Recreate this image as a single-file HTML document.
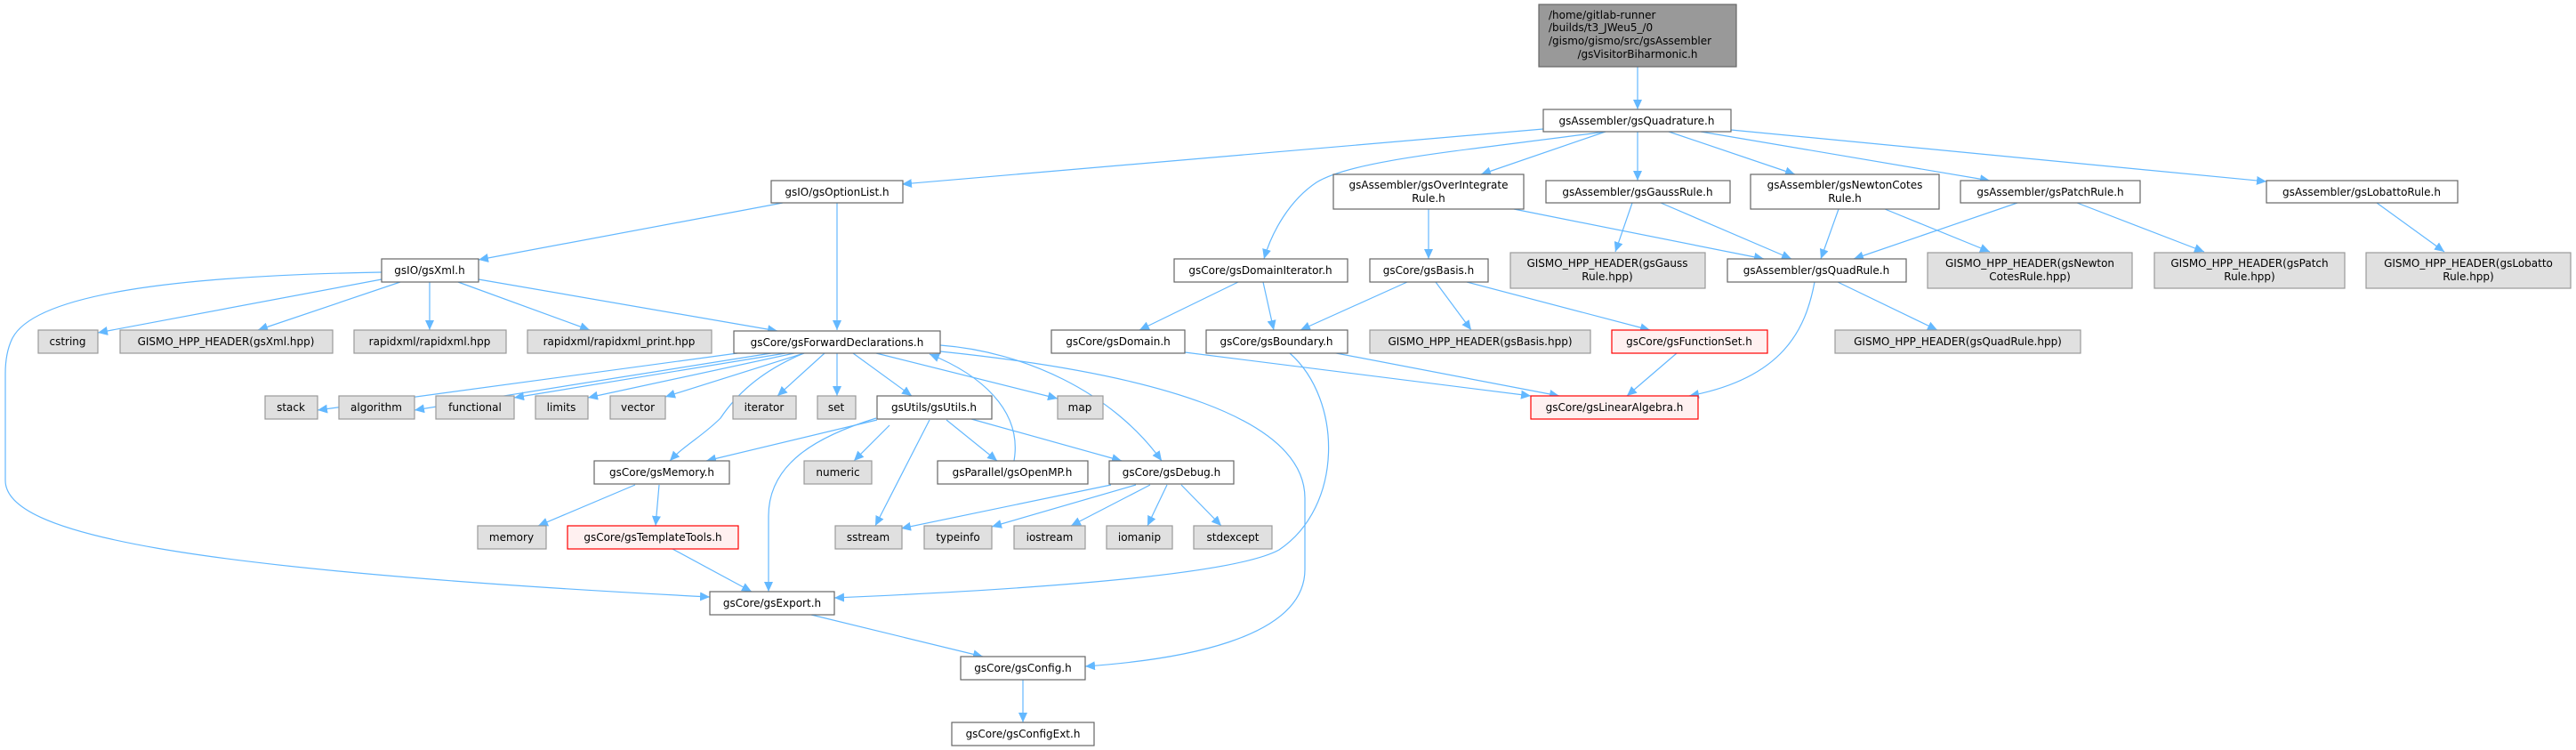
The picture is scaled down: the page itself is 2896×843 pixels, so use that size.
<!DOCTYPE html>
<html><head><meta charset="utf-8"><style>
html,body{margin:0;padding:0;background:#fff;}
svg{display:block;}
text{font-family:"DejaVu Sans","Liberation Sans",sans-serif;font-size:12px;fill:#000;}
.n{fill:#fff;stroke:#666;stroke-width:1.2}
.g{fill:#e0e0e0;stroke:#999;stroke-width:1.2}
.r{fill:#fff0f0;stroke:#f00;stroke-width:1.2}
.t{fill:#999;stroke:#666;stroke-width:1.2}
.e{fill:none;stroke:#63b8ff;stroke-width:1.2;marker-end:url(#a)}
</style></head><body>
<svg width="2896" height="843" viewBox="0 0 2896 843" xmlns="http://www.w3.org/2000/svg">
<defs><marker id="a" markerUnits="userSpaceOnUse" markerWidth="12" markerHeight="10" refX="11" refY="5" orient="auto"><path d="M0,0 L11,5 L0,10 z" fill="#63b8ff"/></marker></defs>

<!-- edges -->
<path class="e" d="M1841,75 L1841,123"/>
<path class="e" d="M1735,145 L1014,207"/>
<path class="e" d="M1805,148 C1640,170 1520,180 1480,205 C1450,225 1430,260 1421,291"/>
<path class="e" d="M1805,148 L1665,196"/>
<path class="e" d="M1841,148 L1841,203"/>
<path class="e" d="M1876,148 L2018,196"/>
<path class="e" d="M1912,148 L2237,203"/>
<path class="e" d="M1946,146 L2548,204"/>
<path class="e" d="M880,228 L538,292"/>
<path class="e" d="M941,228 L941,371"/>
<path class="e" d="M1606,235 L1606,291"/>
<path class="e" d="M1702,235 L1983,291"/>
<path class="e" d="M1835,228 L1816,283"/>
<path class="e" d="M1867,228 L2014,291"/>
<path class="e" d="M2067,235 L2047,291"/>
<path class="e" d="M2119,235 L2237,283"/>
<path class="e" d="M2268,228 L2084,291"/>
<path class="e" d="M2335,228 L2478,283"/>
<path class="e" d="M2672,228 L2748,283"/>
<path class="e" d="M429,314 L110,374"/>
<path class="e" d="M450,317 L290,371"/>
<path class="e" d="M483,317 L483,371"/>
<path class="e" d="M515,317 L663,371"/>
<path class="e" d="M538,314 L874,372"/>
<path class="e" d="M429,306 C200,310 40,330 14,380 C8,392 6,405 6,420 L6,540 C6,600 200,640 798,671"/>
<path class="e" d="M1392,317 L1281,371"/>
<path class="e" d="M1420,317 L1432,371"/>
<path class="e" d="M1582,317 L1462,371"/>
<path class="e" d="M1614,317 L1654,371"/>
<path class="e" d="M1649,317 L1855,371"/>
<path class="e" d="M2066,317 L2178,371"/>
<path class="e" d="M2040,317 C2030,370 2005,425 1899,445"/>
<path class="e" d="M1332,396 L1721,445"/>
<path class="e" d="M1497,396 L1753,445"/>
<path class="e" d="M1885,397 L1829,445"/>
<path class="e" d="M1450,397 C1510,450 1510,570 1438,618 C1380,650 1100,665 938,672"/>
<path class="e" d="M829,397 L357,461"/>
<path class="e" d="M867,397 L466,461"/>
<path class="e" d="M883,397 L578,447"/>
<path class="e" d="M893,397 L661,447"/>
<path class="e" d="M904,397 L748,446"/>
<path class="e" d="M927,397 L874,445"/>
<path class="e" d="M941,397 L941,445"/>
<path class="e" d="M959,397 L1025,445"/>
<path class="e" d="M985,397 L1189,448"/>
<path class="e" d="M904,397 C860,415 830,440 810,470 C790,490 770,500 753,518"/>
<path class="e" d="M1057,388 C1150,395 1250,440 1306,518"/>
<path class="e" d="M1057,395 C1300,420 1467,470 1467,560 L1467,640 C1467,720 1320,742 1220,749"/>
<path class="e" d="M1140,518 C1150,460 1100,420 1045,398"/>
<path class="e" d="M986,472 L794,518"/>
<path class="e" d="M1000,478 L960,518"/>
<path class="e" d="M1045,472 L984,591"/>
<path class="e" d="M1064,472 L1121,518"/>
<path class="e" d="M1092,471 L1261,518"/>
<path class="e" d="M985,470 C920,490 864,520 864,580 L864,665"/>
<path class="e" d="M714,545 L605,591"/>
<path class="e" d="M741,545 L737,591"/>
<path class="e" d="M756,617 L845,665"/>
<path class="e" d="M1249,545 L1013,594"/>
<path class="e" d="M1277,545 L1115,592"/>
<path class="e" d="M1293,545 L1204,591"/>
<path class="e" d="M1312,545 L1290,591"/>
<path class="e" d="M1328,545 L1373,591"/>
<path class="e" d="M912,691 L1105,738"/>
<path class="e" d="M1150,764 L1150,812"/>

<!-- nodes -->
<rect class="t" x="1730" y="5" width="222" height="70"/>
<text x="1741" y="21">/home/gitlab-runner</text>
<text x="1741" y="35">/builds/t3_JWeu5_/0</text>
<text x="1741" y="50">/gismo/gismo/src/gsAssembler</text>
<text x="1841" y="65" text-anchor="middle">/gsVisitorBiharmonic.h</text>

<g text-anchor="middle">
<rect class="n" x="1735" y="123" width="211" height="25"/><text x="1840" y="140">gsAssembler/gsQuadrature.h</text>

<rect class="n" x="867" y="203" width="148" height="25"/><text x="941" y="220">gsIO/gsOptionList.h</text>
<rect class="n" x="1499" y="196" width="214" height="39"/><text x="1606" y="212">gsAssembler/gsOverIntegrate</text><text x="1606" y="227">Rule.h</text>
<rect class="n" x="1738" y="203" width="207" height="25"/><text x="1841" y="220">gsAssembler/gsGaussRule.h</text>
<rect class="n" x="1968" y="196" width="212" height="39"/><text x="2074" y="212">gsAssembler/gsNewtonCotes</text><text x="2074" y="227">Rule.h</text>
<rect class="n" x="2204" y="203" width="202" height="25"/><text x="2305" y="220">gsAssembler/gsPatchRule.h</text>
<rect class="n" x="2548" y="203" width="215" height="25"/><text x="2655" y="220">gsAssembler/gsLobattoRule.h</text>

<rect class="n" x="429" y="291" width="109" height="26"/><text x="483" y="308">gsIO/gsXml.h</text>
<rect class="n" x="1320" y="291" width="195" height="26"/><text x="1417" y="308">gsCore/gsDomainIterator.h</text>
<rect class="n" x="1540" y="291" width="133" height="26"/><text x="1606" y="308">gsCore/gsBasis.h</text>
<rect class="g" x="1698" y="284" width="219" height="40"/><text x="1807" y="300">GISMO_HPP_HEADER(gsGauss</text><text x="1807" y="315">Rule.hpp)</text>
<rect class="n" x="1942" y="291" width="201" height="26"/><text x="2042" y="308">gsAssembler/gsQuadRule.h</text>
<rect class="g" x="2167" y="284" width="230" height="40"/><text x="2282" y="300">GISMO_HPP_HEADER(gsNewton</text><text x="2282" y="315">CotesRule.hpp)</text>
<rect class="g" x="2422" y="284" width="214" height="40"/><text x="2529" y="300">GISMO_HPP_HEADER(gsPatch</text><text x="2529" y="315">Rule.hpp)</text>
<rect class="g" x="2660" y="284" width="230" height="40"/><text x="2775" y="300">GISMO_HPP_HEADER(gsLobatto</text><text x="2775" y="315">Rule.hpp)</text>

<rect class="g" x="43" y="371" width="67" height="26"/><text x="76" y="388">cstring</text>
<rect class="g" x="135" y="371" width="239" height="26"/><text x="254" y="388">GISMO_HPP_HEADER(gsXml.hpp)</text>
<rect class="g" x="398" y="371" width="171" height="26"/><text x="483" y="388">rapidxml/rapidxml.hpp</text>
<rect class="g" x="593" y="371" width="207" height="26"/><text x="696" y="388">rapidxml/rapidxml_print.hpp</text>
<rect class="n" x="825" y="372" width="232" height="25"/><text x="941" y="389">gsCore/gsForwardDeclarations.h</text>
<rect class="n" x="1182" y="371" width="150" height="26"/><text x="1257" y="388">gsCore/gsDomain.h</text>
<rect class="n" x="1356" y="371" width="159" height="26"/><text x="1435" y="388">gsCore/gsBoundary.h</text>
<rect class="g" x="1540" y="371" width="248" height="26"/><text x="1664" y="388">GISMO_HPP_HEADER(gsBasis.hpp)</text>
<rect class="r" x="1812" y="371" width="175" height="26"/><text x="1899" y="388">gsCore/gsFunctionSet.h</text>
<rect class="g" x="2063" y="371" width="276" height="26"/><text x="2201" y="388">GISMO_HPP_HEADER(gsQuadRule.hpp)</text>

<rect class="g" x="298" y="445" width="59" height="26"/><text x="327" y="462">stack</text>
<rect class="g" x="381" y="445" width="85" height="26"/><text x="423" y="462">algorithm</text>
<rect class="g" x="490" y="445" width="88" height="26"/><text x="534" y="462">functional</text>
<rect class="g" x="602" y="445" width="59" height="26"/><text x="631" y="462">limits</text>
<rect class="g" x="686" y="445" width="62" height="26"/><text x="717" y="462">vector</text>
<rect class="g" x="824" y="445" width="71" height="26"/><text x="859" y="462">iterator</text>
<rect class="g" x="919" y="445" width="43" height="26"/><text x="940" y="462">set</text>
<rect class="n" x="986" y="445" width="129" height="26"/><text x="1050" y="462">gsUtils/gsUtils.h</text>
<rect class="g" x="1189" y="445" width="51" height="26"/><text x="1214" y="462">map</text>
<rect class="r" x="1721" y="445" width="188" height="26"/><text x="1815" y="462">gsCore/gsLinearAlgebra.h</text>

<rect class="n" x="668" y="518" width="152" height="26"/><text x="744" y="535">gsCore/gsMemory.h</text>
<rect class="g" x="904" y="518" width="76" height="26"/><text x="942" y="535">numeric</text>
<rect class="n" x="1054" y="518" width="169" height="26"/><text x="1138" y="535">gsParallel/gsOpenMP.h</text>
<rect class="n" x="1247" y="518" width="140" height="26"/><text x="1317" y="535">gsCore/gsDebug.h</text>

<rect class="g" x="537" y="591" width="77" height="26"/><text x="575" y="608">memory</text>
<rect class="r" x="638" y="591" width="192" height="26"/><text x="734" y="608">gsCore/gsTemplateTools.h</text>
<rect class="g" x="939" y="591" width="75" height="26"/><text x="976" y="608">sstream</text>
<rect class="g" x="1039" y="591" width="76" height="26"/><text x="1077" y="608">typeinfo</text>
<rect class="g" x="1140" y="591" width="80" height="26"/><text x="1180" y="608">iostream</text>
<rect class="g" x="1244" y="591" width="74" height="26"/><text x="1281" y="608">iomanip</text>
<rect class="g" x="1342" y="591" width="88" height="26"/><text x="1386" y="608">stdexcept</text>

<rect class="n" x="798" y="665" width="140" height="26"/><text x="868" y="682">gsCore/gsExport.h</text>
<rect class="n" x="1080" y="738" width="140" height="26"/><text x="1150" y="755">gsCore/gsConfig.h</text>
<rect class="n" x="1070" y="812" width="160" height="26"/><text x="1150" y="829">gsCore/gsConfigExt.h</text>
</g>
</svg>
</body></html>
